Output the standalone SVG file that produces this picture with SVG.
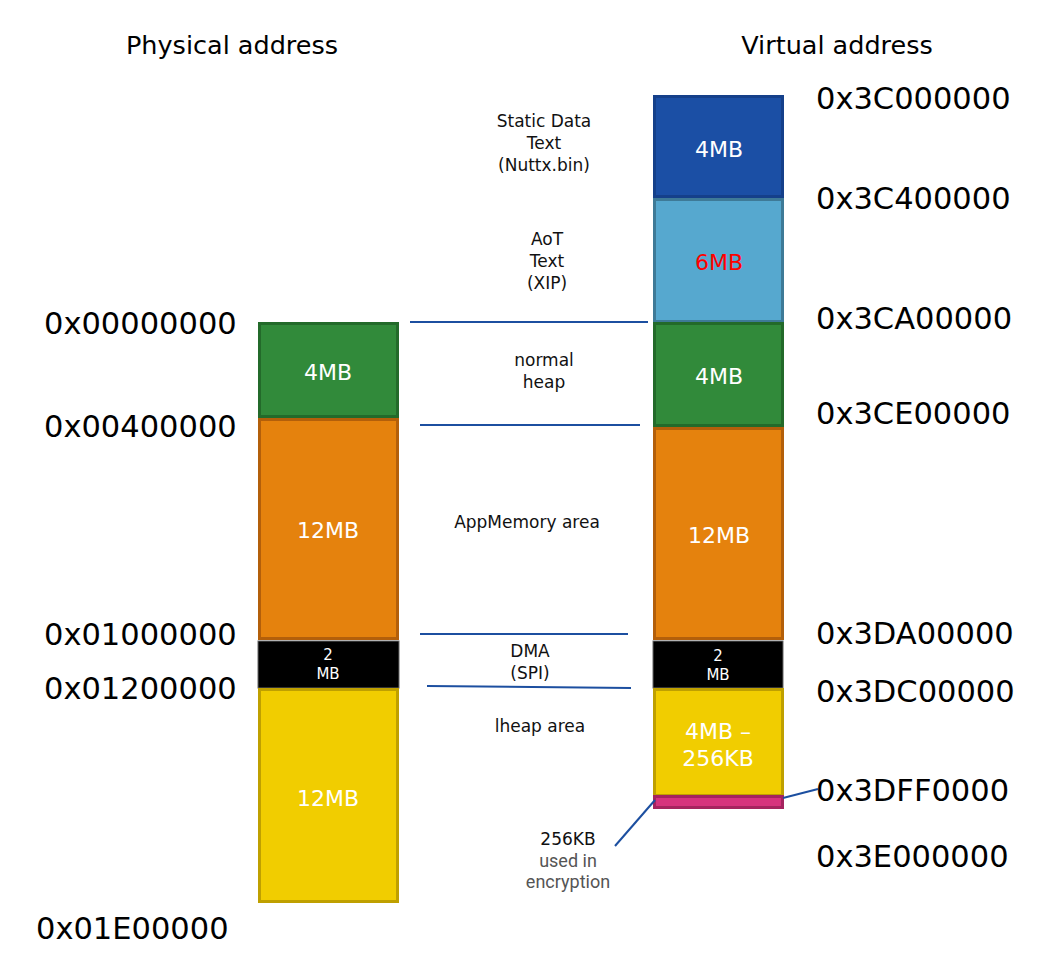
<svg xmlns="http://www.w3.org/2000/svg" width="1048" height="972" viewBox="0 0 1048 972">
<style>
text{font-family:"DejaVu Sans","Liberation Sans",sans-serif;}
.hdr{font-size:25.5px;fill:#000;text-anchor:middle;}
.addr{font-size:30.5px;fill:#000;}
.lbl{font-size:17px;fill:#111;text-anchor:middle;}
.in{font-size:22px;fill:#fff;text-anchor:middle;}
.sm{font-size:15px;fill:#fff;text-anchor:middle;}
.blk{stroke-width:3;}
.conn{stroke:#1c4fa0;stroke-width:2;fill:none;}
.grey{font-family:Roboto,"Liberation Sans",sans-serif;font-size:18px;fill:#555;text-anchor:middle;}
</style>
<rect width="1048" height="972" fill="#fff"/>
<text class="hdr" x="232" y="54">Physical address</text>
<text class="hdr" x="837" y="54">Virtual address</text>

<g id="phys-labels">
<text class="addr" x="44" y="334">0x00000000</text>
<text class="addr" x="44" y="437">0x00400000</text>
<text class="addr" x="44" y="645">0x01000000</text>
<text class="addr" x="44" y="699">0x01200000</text>
<text class="addr" x="36" y="939">0x01E00000</text>
</g>
<g id="virt-labels">
<text class="addr" x="816" y="109">0x3C000000</text>
<text class="addr" x="816" y="209">0x3C400000</text>
<text class="addr" x="816" y="329">0x3CA00000</text>
<text class="addr" x="816" y="424">0x3CE00000</text>
<text class="addr" x="816" y="644">0x3DA00000</text>
<text class="addr" x="816" y="702">0x3DC00000</text>
<text class="addr" x="816" y="801">0x3DFF0000</text>
<text class="addr" x="816" y="867">0x3E000000</text>
</g>

<g id="p-green"><rect class="blk" x="259.5" y="323.5" width="138" height="93" fill="#318a3a" stroke="#236a2a"/><text class="in" x="328" y="380">4MB</text></g>
<g id="p-orange"><rect class="blk" x="259.5" y="419.5" width="138" height="219" fill="#e5820d" stroke="#b35f0a"/><text class="in" x="328" y="538">12MB</text></g>
<g id="p-dma"><rect x="258" y="641" width="141" height="47" fill="#000" stroke="#666" stroke-width="1"/><text class="sm" x="328" y="660">2</text><text class="sm" x="328" y="679">MB</text></g>
<g id="p-yellow"><rect class="blk" x="259.5" y="689.5" width="138" height="212" fill="#f1cd00" stroke="#bfa000"/><text class="in" x="328" y="806">12MB</text></g>

<g id="v-blue"><rect class="blk" x="654.5" y="96.5" width="128" height="100" fill="#1b4fa5" stroke="#15408a"/><text class="in" x="719" y="157">4MB</text></g>
<g id="v-lightblue"><rect class="blk" x="654.5" y="199.5" width="128" height="122" fill="#56a8cf" stroke="#3e7a97"/><text class="in" x="719" y="270" style="fill:#ff0000">6MB</text></g>
<g id="v-green"><rect class="blk" x="654.5" y="323.5" width="128" height="102" fill="#318a3a" stroke="#236a2a"/><text class="in" x="719" y="384">4MB</text></g>
<g id="v-orange"><rect class="blk" x="654.5" y="428.5" width="128" height="210" fill="#e5820d" stroke="#b35f0a"/><text class="in" x="719" y="543">12MB</text></g>
<g id="v-dma"><rect x="653" y="641" width="130" height="47" fill="#000" stroke="#666" stroke-width="1"/><text class="sm" x="718" y="661">2</text><text class="sm" x="718" y="680">MB</text></g>
<g id="v-yellow"><rect class="blk" x="654.5" y="689.5" width="128" height="106" fill="#f1cd00" stroke="#bfa000"/><text class="in" x="718" y="739">4MB –</text><text class="in" x="718" y="766">256KB</text></g>
<g id="v-magenta"><rect class="blk" x="654.5" y="796.5" width="128" height="11" fill="#d6337d" stroke="#a5245f"/></g>

<g id="region-labels">
<text class="lbl" x="544" y="127">Static Data</text>
<text class="lbl" x="544" y="149">Text</text>
<text class="lbl" x="544" y="171">(Nuttx.bin)</text>
<text class="lbl" x="547" y="245">AoT</text>
<text class="lbl" x="547" y="267">Text</text>
<text class="lbl" x="547" y="289">(XIP)</text>
<text class="lbl" x="544" y="366">normal</text>
<text class="lbl" x="544" y="388">heap</text>
<text class="lbl" x="527" y="528">AppMemory area</text>
<text class="lbl" x="530" y="657">DMA</text>
<text class="lbl" x="530" y="679">(SPI)</text>
<text class="lbl" x="540" y="732">lheap area</text>
<text class="lbl" x="568" y="845">256KB</text>
<text class="grey" x="568" y="867">used in</text>
<text class="grey" x="568" y="888">encryption</text>
</g>

<g id="connectors">
<line class="conn" x1="410" y1="322" x2="648" y2="322"/>
<line class="conn" x1="420" y1="425" x2="640" y2="425"/>
<line class="conn" x1="420" y1="634" x2="628" y2="634"/>
<line class="conn" x1="427" y1="686" x2="631" y2="688"/>
<line class="conn" x1="615" y1="846" x2="655" y2="800"/>
<line class="conn" x1="783" y1="798" x2="818" y2="789"/>
</g>
</svg>
